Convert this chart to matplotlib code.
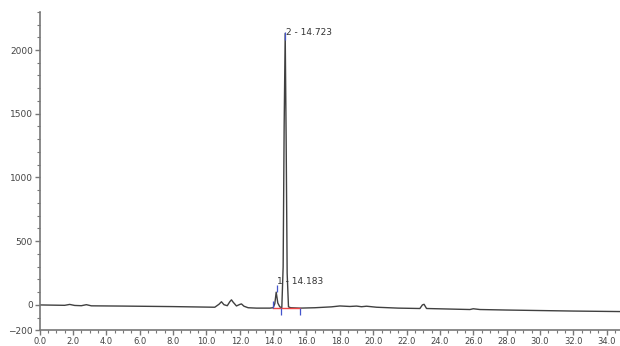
import matplotlib.pyplot as plt
from matplotlib.ticker import MultipleLocator

# ---------- chromatogram trace ----------
time = [0.0, 1.5, 1.8, 2.1, 2.5, 2.8, 3.1, 5.0, 8.0, 9.5, 10.5, 10.75, 10.9, 11.05,
        11.25, 11.4, 11.5, 11.6, 11.8, 12.0, 12.1, 12.25, 12.5, 13.0, 13.8, 14.0,
        14.1, 14.183, 14.28, 14.4, 14.52, 14.6, 14.66, 14.723, 14.78, 14.84, 14.92,
        15.05, 15.6, 16.5, 17.5, 18.0, 18.6, 19.0, 19.3, 19.6, 20.2, 21.5, 22.8,
        22.95, 23.05, 23.2, 24.5, 25.8, 26.0, 26.4, 28.0, 30.0, 32.0, 34.8]
signal = [0, -3, 4, -4, -6, 2, -7, -9, -13, -16, -18, 5, 25, 2,
          -6, 25, 40, 22, -8, 4, 8, -10, -22, -25, -25, -22,
          10, 100, 15, -15, -22, 300, 1400, 2130, 1300, 250, -15,
          -22, -25, -22, -15, -8, -12, -9, -14, -10, -18, -25, -28,
          0, 5, -28, -32, -36, -30, -36, -40, -44, -48, -52]

peak_names = ["1 - 14.183", "2 - 14.723"]
peak_times = [14.183, 14.723]
peak_heights = [100, 2130]

int_base_t = [14.0, 15.6]
int_base_y = [-22, -22]

yticks = [-200, 0, 500, 1000, 1500, 2000]
xticks = [0, 2, 4, 6, 8, 10, 12, 14, 16, 18, 20, 22, 24, 26, 28, 30, 32, 34]

fig = plt.figure(figsize=(6.2, 3.46), dpi=100)
ax = fig.add_axes([0.064, 0.045, 0.936, 0.921])

ax.plot(time, signal, color="#404040", lw=1.0)
ax.plot(int_base_t, int_base_y, color="#ee4444", lw=1.0)
# integration marks
ax.vlines([14.0], -22, 30, color="#4455cc", lw=0.9)
ax.vlines([14.45, 15.6], -80, -22, color="#4455cc", lw=0.9)
ax.vlines([14.22], 100, 160, color="#4455cc", lw=0.9)
ax.vlines([14.723], 2080, 2140, color="#4455cc", lw=0.9)

ax.text(peak_times[0] + 0.05, peak_heights[0] + 50, peak_names[0],
        fontsize=6.5, color="#333333", va="bottom")
ax.text(peak_times[1] + 0.05, peak_heights[1] + 10, peak_names[1],
        fontsize=6.5, color="#333333", va="center")

ax.set_xlim(0, 34.8)
ax.set_ylim(-200, 2300)
ax.set_xticks(xticks)
ax.set_xticklabels(["%.1f" % v for v in xticks])
ax.set_yticks(yticks)
ax.xaxis.set_minor_locator(MultipleLocator(0.5))
ax.yaxis.set_minor_locator(MultipleLocator(100))

for s in ["top", "right"]:
    ax.spines[s].set_visible(False)
for s in ["left", "bottom"]:
    ax.spines[s].set_color("#777777")
    ax.spines[s].set_linewidth(1.2)

ax.tick_params(which="both", colors="#777777", labelcolor="#444444", labelsize=6.5)
ax.tick_params(which="major", length=3.5, width=1)
ax.tick_params(which="minor", length=2, width=0.8)
ax.tick_params(axis="x", labelsize=6, pad=1)
ax.tick_params(axis="y", pad=1.5)

fig.savefig("out.png", dpi=100)
